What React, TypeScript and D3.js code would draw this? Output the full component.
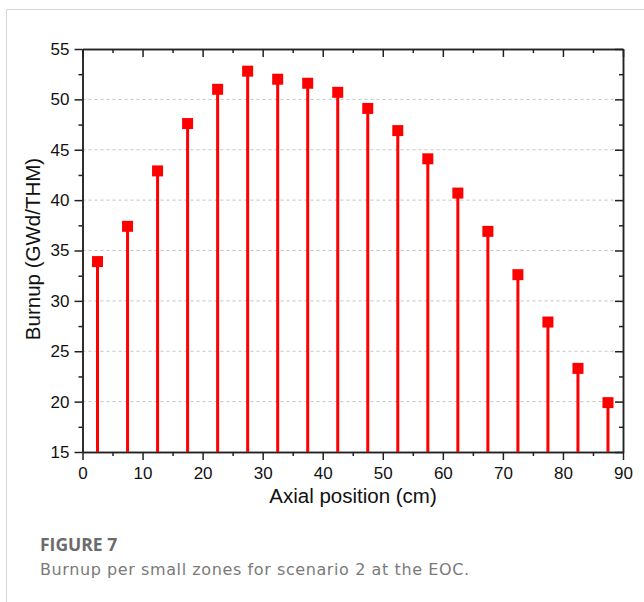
import React, { useEffect, useRef } from "react";
import * as d3 from "d3";

// axial zone midpoints (cm) and burnup at EOC (GWd/THM)
const positions = [2.5, 7.5, 12.5, 17.5, 22.5, 27.5, 32.5, 37.5, 42.5, 47.5, 52.5, 57.5, 62.5, 67.5, 72.5, 77.5, 82.5, 87.5];
const burnup = [33.9, 37.4, 42.9, 47.6, 51.0, 52.8, 52.0, 51.6, 50.7, 49.1, 46.9, 44.1, 40.7, 36.9, 32.6, 27.9, 23.3, 19.9];
const xTicks = [0, 10, 20, 30, 40, 50, 60, 70, 80, 90];
const yTicks = [15, 20, 25, 30, 35, 40, 45, 50, 55];

const W = 644;
const H = 602;

export default function App() {
  const ref = useRef<SVGSVGElement>(null);

  useEffect(() => {
    const svg = d3.select(ref.current);
    svg.selectAll("*").remove();

    const left = 82.5, right = 623, top = 49, bottom = 452;
    const x = d3.scaleLinear().domain([0, 90]).range([left, right]);
    const y = d3.scaleLinear().domain([15, 55]).range([bottom, top]);
    const font = "'Liberation Sans', Arial, sans-serif";

    // figure frame
    svg.append("path")
      .attr("d", `M6.5,${H} V9.5 H${W}`)
      .attr("fill", "none")
      .attr("stroke", "#d6d6d6")
      .attr("stroke-width", 1);

    // grid
    svg.append("g")
      .selectAll("line")
      .data(yTicks.filter((t) => t > 15 && t < 55))
      .join("line")
      .attr("x1", left)
      .attr("x2", right)
      .attr("y1", (d) => y(d))
      .attr("y2", (d) => y(d))
      .attr("stroke", "#c4c4c4")
      .attr("stroke-width", 1)
      .attr("stroke-dasharray", "3,3");

    const minorX = d3.range(5, 90, 10);
    const minorY = d3.range(17.5, 55, 5);

    const axisStyle = (g: any) => {
      g.attr("font-size", 17).attr("font-family", font);
      g.select(".domain").attr("stroke", "#222").attr("stroke-width", 1.5);
      g.selectAll(".tick line").attr("stroke", "#222").attr("stroke-width", 1.5);
      g.selectAll(".tick text")
        .style("font-family", font)
        .style("font-size", "17px")
        .attr("fill", "#111");
    };

    // bottom
    svg.append("g")
      .attr("transform", `translate(0,${bottom})`)
      .call(d3.axisBottom(x).tickValues(xTicks).tickSize(8).tickSizeOuter(0).tickPadding(7))
      .call(axisStyle);
    svg.append("g")
      .attr("transform", `translate(0,${bottom})`)
      .call(d3.axisBottom(x).tickValues(minorX).tickSize(4).tickSizeOuter(0).tickFormat(() => ""))
      .call(axisStyle);
    // top (inward)
    svg.append("g")
      .attr("transform", `translate(0,${top})`)
      .call(d3.axisBottom(x).tickValues(xTicks).tickSize(8).tickSizeOuter(0).tickFormat(() => ""))
      .call(axisStyle);
    svg.append("g")
      .attr("transform", `translate(0,${top})`)
      .call(d3.axisBottom(x).tickValues(minorX).tickSize(4).tickSizeOuter(0).tickFormat(() => ""))
      .call(axisStyle);
    // left
    svg.append("g")
      .attr("transform", `translate(${left},0)`)
      .call(d3.axisLeft(y).tickValues(yTicks).tickSize(8).tickSizeOuter(0).tickPadding(5))
      .call(axisStyle);
    svg.append("g")
      .attr("transform", `translate(${left},0)`)
      .call(d3.axisLeft(y).tickValues(minorY).tickSize(4).tickSizeOuter(0).tickFormat(() => ""))
      .call(axisStyle);
    // right (inward)
    svg.append("g")
      .attr("transform", `translate(${right},0)`)
      .call(d3.axisLeft(y).tickValues(yTicks).tickSize(8).tickSizeOuter(0).tickFormat(() => ""))
      .call(axisStyle);
    svg.append("g")
      .attr("transform", `translate(${right},0)`)
      .call(d3.axisLeft(y).tickValues(minorY).tickSize(4).tickSizeOuter(0).tickFormat(() => ""))
      .call(axisStyle);

    const data = positions.map((p, i) => ({ p, v: burnup[i] }));

    // stems
    svg.append("g")
      .selectAll("line")
      .data(data)
      .join("line")
      .attr("x1", (d) => x(d.p))
      .attr("x2", (d) => x(d.p))
      .attr("y1", bottom)
      .attr("y2", (d) => y(d.v))
      .attr("stroke", "#ff0000")
      .attr("stroke-width", 3);

    // square markers
    const s = 11;
    svg.append("g")
      .selectAll("rect")
      .data(data)
      .join("rect")
      .attr("x", (d) => x(d.p) - s / 2)
      .attr("y", (d) => y(d.v) - s / 2)
      .attr("width", s)
      .attr("height", s)
      .attr("fill", "#ff0000");

    // axis titles
    svg.append("text")
      .attr("x", 353)
      .attr("y", 503)
      .attr("text-anchor", "middle")
      .style("font-family", font)
      .style("font-size", "20.5px")
      .attr("fill", "#111")
      .text("Axial position (cm)");
    svg.append("text")
      .attr("transform", `translate(40,249) rotate(-90)`)
      .attr("text-anchor", "middle")
      .style("font-family", font)
      .style("font-size", "20.5px")
      .attr("fill", "#111")
      .text("Burnup (GWd/THM)");

    // caption
    svg.append("text")
      .attr("x", 40)
      .attr("y", 551)
      .style("font-family", "'Open Sans', 'Noto Sans', sans-serif")
      .style("font-weight", "bold")
      .style("font-size", "17.5px")
      .attr("fill", "#6b6b6b")
      .text("FIGURE 7");
    svg.append("text")
      .attr("x", 40)
      .attr("y", 575)
      .attr("textLength", 429)
      .attr("lengthAdjust", "spacing")
      .style("font-family", "'DejaVu Sans', 'Open Sans', sans-serif")
      .style("font-size", "16px")
      .attr("fill", "#7a7a7a")
      .text("Burnup per small zones for scenario 2 at the EOC.");
  }, []);

  return (
    <svg
      ref={ref}
      width={W}
      height={H}
      style={{ position: "absolute", left: 0, top: 0, background: "#fff" }}
    />
  );
}
